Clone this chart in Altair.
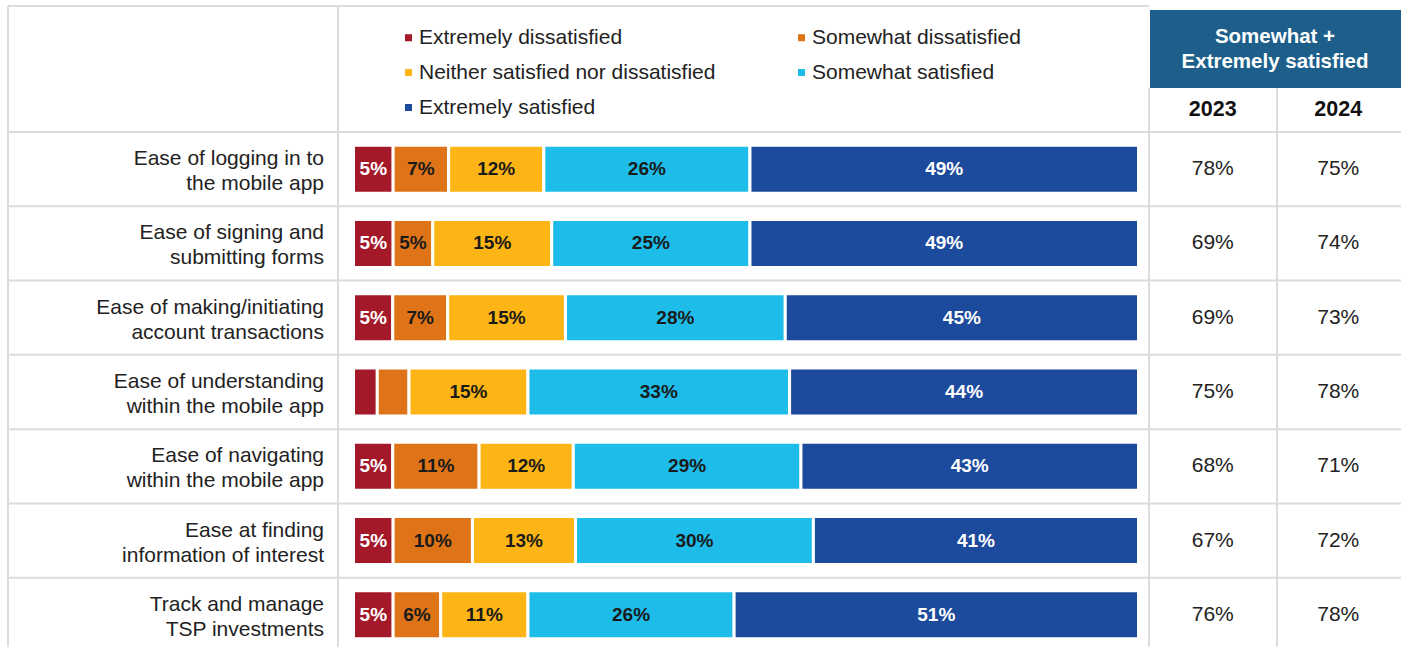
import altair as alt
import pandas as pd

# ---------------- data ----------------
items = [
    "Ease of logging in to\nthe mobile app",
    "Ease of signing and\nsubmitting forms",
    "Ease of making/initiating\naccount transactions",
    "Ease of understanding\nwithin the mobile app",
    "Ease of navigating\nwithin the mobile app",
    "Ease at finding\ninformation of interest",
    "Track and manage\nTSP investments",
]
levels = [
    "Extremely dissatisfied",
    "Somewhat dissatisfied",
    "Neither satisfied nor dissatisfied",
    "Somewhat satisfied",
    "Extremely satisfied",
]
level_colors = ["#A3192A", "#DE7417", "#FDB515", "#1DBCE9", "#1C4A9C"]

extremely_dissatisfied = [5, 5, 5, 3, 5, 5, 5]
somewhat_dissatisfied = [7, 5, 7, 4, 11, 10, 6]
neither = [12, 15, 15, 15, 12, 13, 11]
somewhat_satisfied = [26, 25, 28, 33, 29, 30, 26]
extremely_satisfied = [49, 49, 45, 44, 43, 41, 51]

years = ["2023", "2024"]
sat_2023 = [78, 69, 69, 75, 68, 67, 76]
sat_2024 = [75, 74, 73, 78, 71, 72, 78]

header_text = "Somewhat +\nExtremely satisfied"

FONT = "Liberation Sans"
GRID = "#DCDCDC"

# ---------------- tables ----------------
series = [extremely_dissatisfied, somewhat_dissatisfied, neither,
          somewhat_satisfied, extremely_satisfied]
rows = []
for r, item in enumerate(items):
    for li, lev in enumerate(levels):
        rows.append({"row": r, "item": item, "level": lev, "lidx": li,
                     "value": series[li][r]})
bars_df = pd.DataFrame(rows)

items_df = pd.DataFrame({"row": list(range(len(items))), "item": items})

yr_rows = []
for r in range(len(items)):
    yr_rows.append({"row": r, "year": years[0], "v": sat_2023[r]})
    yr_rows.append({"row": r, "year": years[1], "v": sat_2024[r]})
yr_df = pd.DataFrame(yr_rows)

seps_df = pd.DataFrame({"row": list(range(len(items)))})

# ---------------- scales ----------------
yscale = alt.Scale(domain=[-0.5, len(items) - 0.5], range=[132, 652])
xscale = alt.Scale(domain=[0, 1], range=[353.5, 1138.5])
yr_scale = alt.Scale(domain=years, range=[1150, 1401], paddingInner=0, paddingOuter=0)

# ---------------- layers ----------------
sep_lines = alt.Chart(seps_df).transform_calculate(
    ys="datum.row + 0.5"
).mark_rule(color=GRID, strokeWidth=2).encode(
    y=alt.Y("ys:Q", scale=yscale, axis=None),
    x=alt.value(8), x2=alt.value(1401),
)
top_line = alt.Chart(seps_df).transform_filter("datum.row == 0").transform_calculate(
    ys="datum.row - 0.5"
).mark_rule(color=GRID, strokeWidth=2).encode(
    y=alt.Y("ys:Q", scale=yscale, axis=None),
    x=alt.value(8), x2=alt.value(1401),
)


def vline(xp, y0):
    return alt.Chart(seps_df).transform_filter("datum.row == 0").mark_rule(
        color=GRID, strokeWidth=2
    ).encode(x=alt.value(xp), y=alt.value(y0), y2=alt.value(647))


top_frame = alt.Chart(seps_df).transform_filter("datum.row == 0").mark_rule(
    color=GRID, strokeWidth=2
).encode(x=alt.value(8), x2=alt.value(1149), y=alt.value(6))

header_box = alt.Chart(seps_df).transform_filter("datum.row == 0").mark_rect(
    color="#1D5F8A"
).encode(x=alt.value(1150), x2=alt.value(1401), y=alt.value(10), y2=alt.value(88))
header_txt = alt.Chart(pd.DataFrame({"t": [header_text]})).mark_text(
    font=FONT, fontSize=20.5, fontWeight="bold", color="white", lineBreak="\n",
    lineHeight=25, align="center", baseline="middle"
).encode(x=alt.value(1275), y=alt.value(37), text="t:N")

year_hdr = alt.Chart(pd.DataFrame({"year": years})).mark_text(
    font=FONT, fontSize=21.5, fontWeight="bold", color="#111111", baseline="middle"
).encode(
    x=alt.X("year:N", scale=yr_scale, axis=None),
    y=alt.value(110),
    text="year:N",
)

year_vals = alt.Chart(yr_df).transform_calculate(
    lbl="datum.v + '%'"
).mark_text(
    font=FONT, fontSize=21, color="#222222", baseline="middle"
).encode(
    x=alt.X("year:N", scale=yr_scale, axis=None),
    y=alt.Y("row:Q", scale=yscale, axis=None),
    text="lbl:N",
)

item_labels = alt.Chart(items_df).mark_text(
    font=FONT, fontSize=21, color="#222222", align="right", baseline="middle",
    lineBreak="\n", lineHeight=25, dy=-10
).encode(
    x=alt.value(324),
    y=alt.Y("row:Q", scale=yscale, axis=None),
    text="item:N",
)

stacked = alt.Chart(bars_df).transform_joinaggregate(
    total="sum(value)", groupby=["row"]
).transform_window(
    cum="sum(value)", sort=[alt.SortField("lidx")], groupby=["row"], frame=[None, 0]
).transform_calculate(
    x0="(datum.cum - datum.value) / datum.total",
    x1="datum.cum / datum.total",
    mid="(datum.cum - datum.value / 2) / datum.total",
    y0="datum.row - 0.323",
    y1="datum.row + 0.323",
    lbl="datum.value + '%'",
)

bars = stacked.mark_rect(stroke="white", strokeWidth=3).encode(
    x=alt.X("x0:Q", scale=xscale, axis=None),
    x2="x1:Q",
    y=alt.Y("y0:Q", scale=yscale, axis=None),
    y2="y1:Q",
    color=alt.Color(
        "level:N",
        scale=alt.Scale(domain=levels, range=level_colors),
        legend=alt.Legend(
            title=None, orient="none", legendX=398, legendY=27, columns=2,
            direction="horizontal",
            symbolType="square", symbolSize=49, symbolStrokeWidth=0,
            labelFont=FONT, labelFontSize=21, labelColor="#222222",
            labelLimit=600, labelOffset=0, rowPadding=13, columnPadding=75,
        ),
    ),
)

bar_text = stacked.transform_filter("datum.value >= 5").mark_text(
    font=FONT, fontSize=19, fontWeight="bold", baseline="middle"
).encode(
    x=alt.X("mid:Q", scale=xscale, axis=None),
    y=alt.Y("row:Q", scale=yscale, axis=None),
    text="lbl:N",
    color=alt.condition("datum.lidx == 0 || datum.lidx == 4",
                        alt.value("white"), alt.value("#1a1a1a")),
)

chart = alt.layer(
    sep_lines, top_line, top_frame,
    vline(8, 6), vline(338, 6), vline(1149, 88), vline(1277, 88),
    header_box, header_txt, year_hdr, year_vals, item_labels,
    bars, bar_text,
).properties(
    width=1401, height=647, padding=0, autosize=alt.AutoSizeParams(type="none"),
    background="white",
).configure_view(stroke=None)

chart.save("out.html", embed_options={"renderer": "svg", "actions": False})
